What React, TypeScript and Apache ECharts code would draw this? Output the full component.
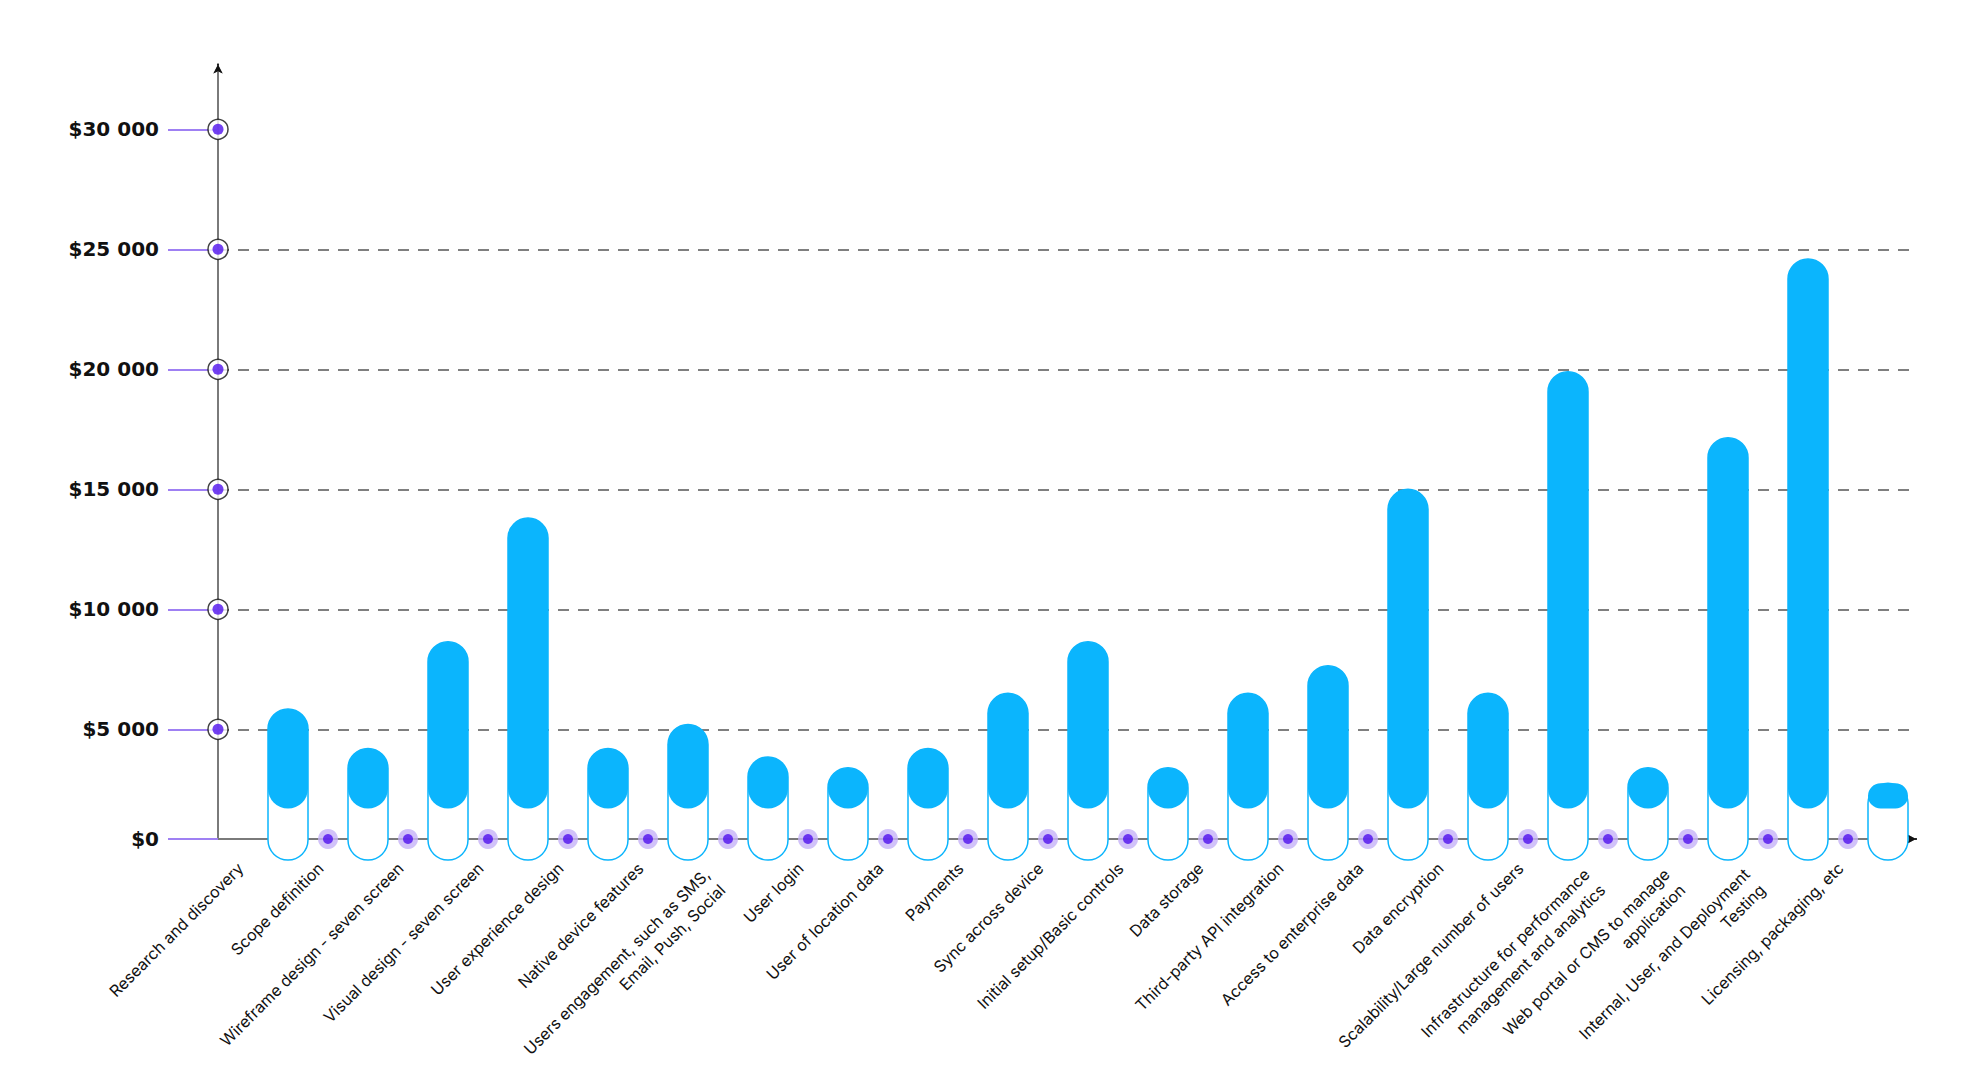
import React, { useEffect, useRef } from "react";
import * as echarts from "echarts";

// ---- data ----
const CATEGORIES: string[] = [
  "Research and discovery",
  "Scope definition",
  "Wireframe design - seven screen",
  "Visual design - seven screen",
  "User experience design",
  "Native device features",
  "Users engagement, such as SMS,\nEmail, Push, Social",
  "User login",
  "User of location data",
  "Payments",
  "Sync across device",
  "Initial setup/Basic controls",
  "Data storage",
  "Third-party API integration",
  "Access to enterprise data",
  "Data encryption",
  "Scalability/Large number of users",
  "Infrastructure for performance\nmanagement and analytics",
  "Web portal or CMS to manage\napplication",
  "Internal, User, and Deployment\nTesting",
  "Licensing, packaging, etc",
];

const COSTS: number[] = [
  5850, 4200, 8650, 13800, 4200, 5200, 3850, 3400, 4200, 6500, 8650, 3400,
  6500, 7650, 15000, 6500, 19900, 3400, 17150, 24600, 2750,
];

const Y_TICKS: number[] = [5000, 10000, 15000, 20000, 25000, 30000];

// ---- styles ----
const BAR_COLOR = "#0bb5fd";
const PURPLE = "#5012ee";
const PURPLE_LIGHT = "#9f80f3";
const HALO = "#c6b3f8";
const AXIS_GRAY = "#7a7a7a";
const FILL_BASE = 1700; // value where the filled capsule ends
const OUTLINE_BASE = -450; // value where the outlined capsule ends
const BAR_WIDTH = 40;

const Y_LABEL_STYLE = {
  fontFamily: "DejaVu Sans",
  fontWeight: "bold" as const,
  fontSize: 20,
  color: "#111",
  margin: 59,
};

const X_LABEL_FONT = {
  fontFamily: "Inter",
  fontSize: 16,
  lineHeight: 22,
  color: "#111",
};

const fmtMoney = (v: number) =>
  v === 0 ? "$0" : "$" + Math.round(v / 1000) + " 000";

export default function App() {
  const ref = useRef<HTMLDivElement>(null);

  useEffect(() => {
    if (!ref.current) return;
    const chart = echarts.init(ref.current, undefined, { renderer: "svg" });

    const upper = { top: 129.3, bottom: 1068 - 729.3 };
    const frame = { top: 64.5, bottom: 229 };
    const gridBase = { outerBoundsMode: "none", containLabel: false };

    const labelData = CATEGORIES.map((c) =>
      c.includes("\n")
        ? {
            value: c,
            textStyle: { verticalAlign: "middle", padding: [33, 14, 0, 0] },
          }
        : c
    );

    const arrowLine = (color: string) => ({
      show: true,
      onZero: false,
      symbol: ["none", "arrow"],
      symbolSize: [7, 9],
      lineStyle: { color, width: 2 },
    });

    const option: any = {
      animation: false,
      backgroundColor: "#ffffff",
      grid: [
        { ...gridBase, left: 218, right: 72, ...upper }, // 0 ticks / split lines
        { ...gridBase, left: 218, right: 72, ...frame }, // 1 axis lines
        { ...gridBase, left: 218, right: 72, top: 729.3, bottom: 229 }, // 2 zero tick
        { ...gridBase, left: 248, right: 60, ...upper }, // 3 bars
        { ...gridBase, left: 193, right: 115, ...frame }, // 4 category labels
        { ...gridBase, left: 208, right: 100, ...frame }, // 5 boundary dots
        { ...gridBase, left: 1915, right: 72, top: 838, bottom: 229 }, // 6 x arrow head
        { ...gridBase, left: 218, right: 1769, top: 64.5, bottom: 1002.5 }, // 7 y arrow head
      ],
      xAxis: [
        { gridIndex: 0, type: "value", min: 0, max: 1, show: false },
        {
          gridIndex: 1,
          type: "value",
          min: 0,
          max: 1,
          axisLine: arrowLine(AXIS_GRAY),
          axisTick: { show: false },
          axisLabel: { show: false },
          splitLine: { show: false },
        },
        { gridIndex: 2, type: "value", min: 0, max: 1, show: false },
        {
          gridIndex: 3,
          type: "category",
          data: CATEGORIES,
          show: false,
          boundaryGap: true,
        },
        {
          gridIndex: 4,
          type: "category",
          data: labelData,
          boundaryGap: true,
          axisLine: { show: false },
          axisTick: { show: false },
          axisLabel: {
            interval: 0,
            rotate: 45,
            margin: 19,
            verticalAlign: "top",
            ...X_LABEL_FONT,
            formatter: (v: string) =>
              v.includes("\n")
                ? v
                    .split("\n")
                    .map((l) => "{m|" + l + "}")
                    .join("\n")
                : v,
            rich: { m: { ...X_LABEL_FONT } },
          },
          splitLine: { show: false },
        },
        {
          gridIndex: 5,
          type: "category",
          data: CATEGORIES,
          boundaryGap: true,
          show: false,
        },
        {
          gridIndex: 6,
          type: "value",
          min: 0,
          max: 1,
          axisLine: arrowLine("#111"),
          axisTick: { show: false },
          axisLabel: { show: false },
          splitLine: { show: false },
        },
        { gridIndex: 7, type: "value", min: 0, max: 1, show: false },
      ],
      yAxis: [
        {
          gridIndex: 0,
          type: "value",
          min: 5000,
          max: 30000,
          interval: 5000,
          axisLine: { show: false },
          axisTick: {
            show: true,
            inside: false,
            length: 50,
            lineStyle: { color: PURPLE_LIGHT, width: 2 },
          },
          axisLabel: { ...Y_LABEL_STYLE, formatter: fmtMoney },
          splitLine: {
            show: true,
            showMinLine: true,
            showMaxLine: false,
            lineStyle: { color: "#555", width: 1.5, type: [11, 9] },
          },
        },
        {
          gridIndex: 1,
          type: "value",
          min: 0,
          max: 1,
          axisLine: arrowLine(AXIS_GRAY),
          axisTick: { show: false },
          axisLabel: { show: false },
          splitLine: { show: false },
        },
        {
          gridIndex: 2,
          type: "value",
          min: 0,
          max: 1,
          interval: 1,
          axisLine: { show: false },
          axisTick: {
            show: true,
            inside: false,
            length: 50,
            lineStyle: { color: PURPLE_LIGHT, width: 2 },
          },
          axisLabel: {
            ...Y_LABEL_STYLE,
            formatter: (v: number) => (v === 0 ? fmtMoney(0) : ""),
          },
          splitLine: { show: false },
        },
        {
          gridIndex: 3,
          type: "value",
          min: 5000,
          max: 30000,
          interval: 5000,
          show: false,
        },
        { gridIndex: 4, type: "value", min: 0, max: 1, show: false },
        { gridIndex: 5, type: "value", min: 0, max: 1, show: false },
        { gridIndex: 6, type: "value", min: 0, max: 1, show: false },
        {
          gridIndex: 7,
          type: "value",
          min: 0,
          max: 1,
          axisLine: arrowLine("#111"),
          axisTick: { show: false },
          axisLabel: { show: false },
          splitLine: { show: false },
        },
      ],
      series: [
        // bars
        {
          type: "custom",
          xAxisIndex: 3,
          yAxisIndex: 3,
          clip: false,
          z: 3,
          data: COSTS.map((v, i) => [i, v]),
          encode: { x: 0, y: 1 },
          renderItem: (params: any, api: any) => {
            const i = api.value(0);
            const v = api.value(1);
            const top = api.coord([i, v]);
            const fillBottom = api.coord([i, FILL_BASE])[1];
            const outlineBottom = api.coord([i, OUTLINE_BASE])[1];
            const x = top[0] - BAR_WIDTH / 2;
            return {
              type: "group",
              children: [
                {
                  type: "rect",
                  shape: {
                    x,
                    y: top[1],
                    width: BAR_WIDTH,
                    height: outlineBottom - top[1],
                    r: BAR_WIDTH / 2,
                  },
                  style: { fill: "#ffffff", stroke: BAR_COLOR, lineWidth: 1.5 },
                },
                {
                  type: "rect",
                  shape: {
                    x,
                    y: top[1],
                    width: BAR_WIDTH,
                    height: fillBottom - top[1],
                    r: BAR_WIDTH / 2,
                  },
                  style: { fill: BAR_COLOR },
                },
              ],
            };
          },
        },
        // y-axis tick rings
        {
          type: "scatter",
          xAxisIndex: 0,
          yAxisIndex: 0,
          clip: false,
          z: 4,
          symbol: "circle",
          symbolSize: 20,
          itemStyle: { color: "#ffffff", borderColor: "#111", borderWidth: 1.5 },
          data: Y_TICKS.map((v) => [0, v]),
          silent: true,
        },
        {
          type: "scatter",
          xAxisIndex: 0,
          yAxisIndex: 0,
          clip: false,
          z: 5,
          symbol: "circle",
          symbolSize: 11,
          itemStyle: { color: PURPLE },
          data: Y_TICKS.map((v) => [0, v]),
          silent: true,
        },
        // x-axis boundary dots
        {
          type: "scatter",
          xAxisIndex: 5,
          yAxisIndex: 5,
          clip: false,
          z: 4,
          symbol: "circle",
          symbolSize: 20,
          itemStyle: { color: HALO },
          data: CATEGORIES.slice(1).map((c) => [c, 0]),
          silent: true,
        },
        {
          type: "scatter",
          xAxisIndex: 5,
          yAxisIndex: 5,
          clip: false,
          z: 5,
          symbol: "circle",
          symbolSize: 10,
          itemStyle: { color: PURPLE },
          data: CATEGORIES.slice(1).map((c) => [c, 0]),
          silent: true,
        },
      ],
    };

    chart.setOption(option);
    return () => chart.dispose();
  }, []);

  return (
    <div
      ref={ref}
      style={{
        position: "fixed",
        left: 0,
        top: 0,
        width: 1988,
        height: 1068,
        background: "#fff",
      }}
    />
  );
}
